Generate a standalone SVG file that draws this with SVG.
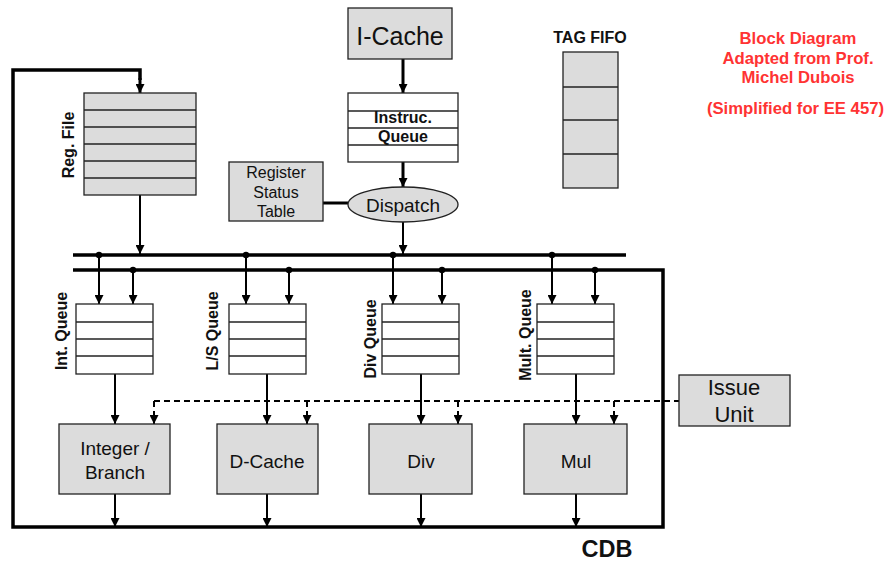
<svg xmlns="http://www.w3.org/2000/svg" width="886" height="561" viewBox="0 0 886 561">
<defs>
<marker id="ah" viewBox="0 0 10 10" refX="10" refY="5" markerUnits="userSpaceOnUse" markerWidth="9" markerHeight="9" orient="auto">
<path d="M0,0 L10,5 L0,10 z" fill="#000"/>
</marker>
</defs>
<style>
text{font-family:"Liberation Sans",Arial,sans-serif;fill:#111}
.g{fill:#dcdcdc;stroke:#222;stroke-width:1.3}
.w{fill:#fff;stroke:#222;stroke-width:1.3}
.row{stroke:#222;stroke-width:1.3}
.bus{fill:none;stroke:#000;stroke-width:3.5}
.ar{fill:none;stroke:#000;stroke-width:2;marker-end:url(#ah)}
.ar3{fill:none;stroke:#000;stroke-width:3;marker-end:url(#ah)}
.da{fill:none;stroke:#000;stroke-width:2;stroke-dasharray:6,4;marker-end:url(#ah)}
.dl{fill:none;stroke:#000;stroke-width:2;stroke-dasharray:6,4}
.lb{font-weight:bold;font-size:16px;text-anchor:middle}
.fu{font-size:19px;text-anchor:middle}
.red{font-weight:bold;font-size:16.7px;text-anchor:middle;fill:#ff3333}
</style>

<g id="connectors">
<polyline class="bus" points="73,270 663,270 663,527 13,527 13,70 140,70 140,80"/>
<line class="ar3" x1="140" y1="78" x2="140" y2="93"/>
<line class="bus" x1="73" y1="255" x2="626" y2="255"/>
<line class="ar3" x1="403" y1="59" x2="403" y2="93"/>
<line class="ar3" x1="403" y1="162" x2="403" y2="187"/>
<line x1="323" y1="203" x2="348" y2="203" stroke="#000" stroke-width="3"/>
<line class="ar" x1="140" y1="195" x2="140" y2="254"/>
<line class="ar" x1="403" y1="222" x2="403" y2="254"/>
<g fill="#000">
<circle cx="99" cy="255" r="3.2"/><circle cx="246" cy="255" r="3.2"/><circle cx="393" cy="255" r="3.2"/><circle cx="552" cy="255" r="3.2"/>
<circle cx="133" cy="270" r="3.2"/><circle cx="289" cy="270" r="3.2"/><circle cx="442" cy="270" r="3.2"/><circle cx="595" cy="270" r="3.2"/>
</g>
<line class="ar" x1="99" y1="255" x2="99" y2="304"/>
<line class="ar" x1="133" y1="270" x2="133" y2="304"/>
<line class="ar" x1="246" y1="255" x2="246" y2="304"/>
<line class="ar" x1="289" y1="270" x2="289" y2="304"/>
<line class="ar" x1="393" y1="255" x2="393" y2="304"/>
<line class="ar" x1="442" y1="270" x2="442" y2="304"/>
<line class="ar" x1="552" y1="255" x2="552" y2="304"/>
<line class="ar" x1="595" y1="270" x2="595" y2="304"/>
<line class="ar" x1="115" y1="374" x2="115" y2="424"/>
<line class="ar" x1="267" y1="374" x2="267" y2="424"/>
<line class="ar" x1="421" y1="374" x2="421" y2="424"/>
<line class="ar" x1="576" y1="374" x2="576" y2="424"/>
<line class="dl" x1="680" y1="401" x2="154" y2="401"/>
<line class="da" x1="154" y1="401" x2="154" y2="424"/>
<line class="da" x1="307" y1="401" x2="307" y2="424"/>
<line class="da" x1="458" y1="401" x2="458" y2="424"/>
<line class="da" x1="614" y1="401" x2="614" y2="424"/>
<line class="ar" x1="115" y1="494" x2="115" y2="527"/>
<line class="ar" x1="267" y1="494" x2="267" y2="527"/>
<line class="ar" x1="421" y1="494" x2="421" y2="527"/>
<line class="ar" x1="576" y1="494" x2="576" y2="527"/>
</g>

<g id="icache">
<rect class="g" x="348" y="8" width="104" height="51"/>
<text x="400" y="45" font-size="25" text-anchor="middle">I-Cache</text>
</g>

<g id="instruc-queue">
<rect class="w" x="348" y="93" width="110" height="69"/>
<line class="row" x1="348" y1="111" x2="458" y2="111"/>
<line class="row" x1="348" y1="128" x2="458" y2="128"/>
<line class="row" x1="348" y1="145" x2="458" y2="145"/>
<text class="lb" x="403" y="123">Instruc.</text>
<text class="lb" x="403" y="142">Queue</text>
</g>

<g id="dispatch">
<ellipse cx="403" cy="204.5" rx="55" ry="17.5" class="g"/>
<text x="403" y="212" font-size="19" text-anchor="middle">Dispatch</text>
</g>

<g id="rst">
<rect class="g" x="229" y="162" width="94" height="59"/>
<text x="276" y="178" font-size="16" text-anchor="middle">Register</text>
<text x="276" y="198" font-size="16" text-anchor="middle">Status</text>
<text x="276" y="217" font-size="16" text-anchor="middle">Table</text>
</g>

<g id="regfile">
<rect class="g" x="84" y="93" width="112" height="102"/>
<line class="row" x1="84" y1="110" x2="196" y2="110"/>
<line class="row" x1="84" y1="127" x2="196" y2="127"/>
<line class="row" x1="84" y1="144" x2="196" y2="144"/>
<line class="row" x1="84" y1="161" x2="196" y2="161"/>
<line class="row" x1="84" y1="178" x2="196" y2="178"/>
<text class="lb" transform="translate(74,145) rotate(-90)">Reg. File</text>
</g>

<g id="tagfifo">
<text class="lb" x="590" y="43">TAG FIFO</text>
<rect class="g" x="563" y="52" width="55" height="136"/>
<line class="row" x1="563" y1="87" x2="618" y2="87"/>
<line class="row" x1="563" y1="120" x2="618" y2="120"/>
<line class="row" x1="563" y1="154" x2="618" y2="154"/>
</g>

<g id="note">
<text class="red" x="798" y="44">Block Diagram</text>
<text class="red" x="798" y="64">Adapted from Prof.</text>
<text class="red" x="798" y="83">Michel Dubois</text>
<text class="red" x="884" y="114" style="text-anchor:end">(Simplified for EE 457)</text>
</g>

<g id="int-queue">
<rect class="w" x="76" y="304" width="77" height="70"/>
<line class="row" x1="76" y1="322" x2="153" y2="322"/>
<line class="row" x1="76" y1="339" x2="153" y2="339"/>
<line class="row" x1="76" y1="356" x2="153" y2="356"/>
<text class="lb" transform="translate(67,331) rotate(-90)">Int. Queue</text>
</g>
<g id="ls-queue">
<rect class="w" x="229" y="304" width="77" height="70"/>
<line class="row" x1="229" y1="322" x2="306" y2="322"/>
<line class="row" x1="229" y1="339" x2="306" y2="339"/>
<line class="row" x1="229" y1="356" x2="306" y2="356"/>
<text class="lb" transform="translate(218,331) rotate(-90)">L/S Queue</text>
</g>
<g id="div-queue">
<rect class="w" x="382" y="304" width="77" height="70"/>
<line class="row" x1="382" y1="322" x2="459" y2="322"/>
<line class="row" x1="382" y1="339" x2="459" y2="339"/>
<line class="row" x1="382" y1="356" x2="459" y2="356"/>
<text class="lb" transform="translate(376,339) rotate(-90)">Div Queue</text>
</g>
<g id="mult-queue">
<rect class="w" x="537" y="304" width="77" height="70"/>
<line class="row" x1="537" y1="322" x2="614" y2="322"/>
<line class="row" x1="537" y1="339" x2="614" y2="339"/>
<line class="row" x1="537" y1="356" x2="614" y2="356"/>
<text class="lb" transform="translate(531,335) rotate(-90)">Mult. Queue</text>
</g>

<g id="int-branch">
<rect class="g" x="59" y="424" width="111" height="70"/>
<text class="fu" x="115" y="455">Integer /</text>
<text class="fu" x="115" y="479">Branch</text>
</g>
<g id="dcache">
<rect class="g" x="217" y="424" width="101" height="70"/>
<text class="fu" x="267" y="468">D-Cache</text>
</g>
<g id="div">
<rect class="g" x="369" y="424" width="103" height="70"/>
<text class="fu" x="421" y="468">Div</text>
</g>
<g id="mul">
<rect class="g" x="524" y="424" width="103" height="70"/>
<text class="fu" x="576" y="468">Mul</text>
</g>

<g id="issue-unit">
<rect class="g" x="679" y="375" width="111" height="51"/>
<text x="734" y="395" font-size="22" text-anchor="middle">Issue</text>
<text x="734" y="422" font-size="22" text-anchor="middle">Unit</text>
</g>

<g id="cdb-label">
<text x="607" y="557" font-size="23.5" font-weight="bold" text-anchor="middle">CDB</text>
</g>
</svg>
